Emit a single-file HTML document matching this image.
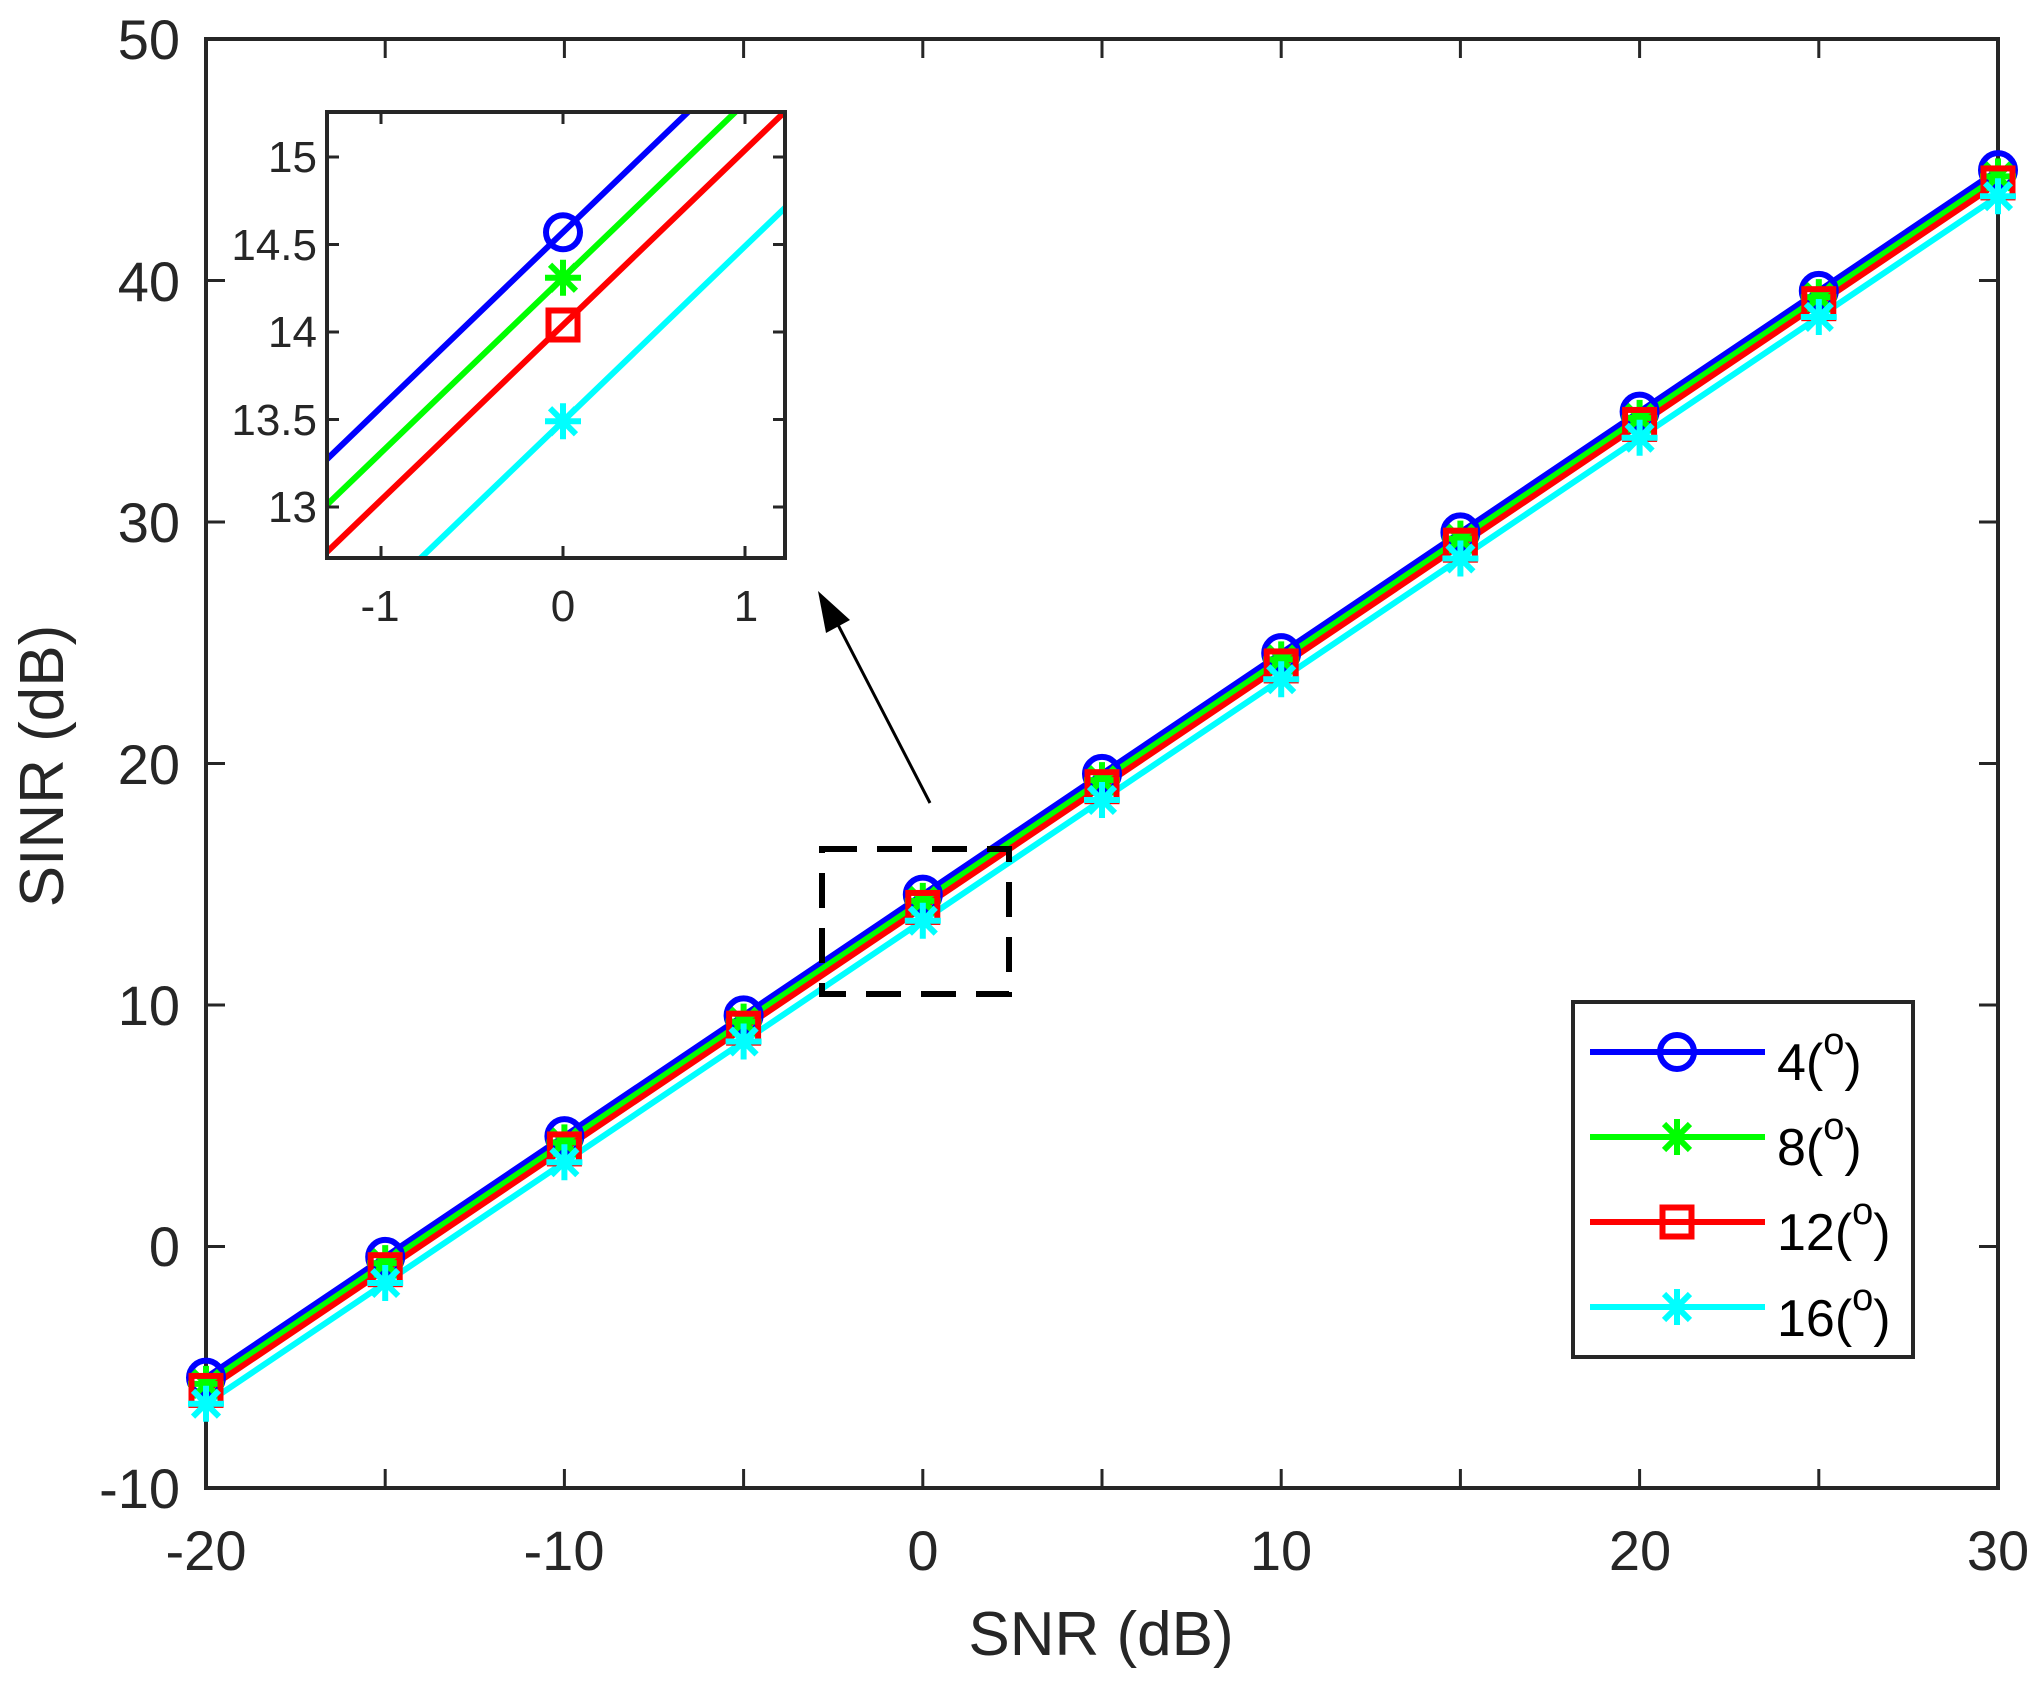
<!DOCTYPE html>
<html><head><meta charset="utf-8"><style>
html,body{margin:0;padding:0;background:#fff;overflow:hidden;width:2040px;height:1694px}
svg{display:block}
text{font-family:"Liberation Sans",Arial,sans-serif;fill:#262626}
</style></head><body>
<svg id="s" width="2040" height="1694" viewBox="0 0 2040 1694" xmlns="http://www.w3.org/2000/svg">
<defs>
<clipPath id="cm"><rect x="206" y="39" width="1792" height="1449"/></clipPath>
<clipPath id="ci"><rect x="327" y="112" width="458" height="446"/></clipPath>
</defs>
<rect x="0" y="0" width="2040" height="1694" fill="#fff"/>
<g id="mainplot" clip-path="url(#cm)"></g>
<rect x="206" y="39" width="1792" height="1449" fill="none" stroke="#262626" stroke-width="4"/>
<g id="mainmarks"></g>
<g id="mainticks" stroke="#262626" stroke-width="3"></g>
<g font-size="56" text-anchor="end">
<text x="180" y="1508">-10</text>
<text x="180" y="1266">0</text>
<text x="180" y="1025">10</text>
<text x="180" y="784">20</text>
<text x="180" y="542">30</text>
<text x="180" y="301">40</text>
<text x="180" y="59">50</text>
</g>
<g font-size="56" text-anchor="middle">
<text x="206" y="1570">-20</text>
<text x="564" y="1570">-10</text>
<text x="923" y="1570">0</text>
<text x="1281" y="1570">10</text>
<text x="1640" y="1570">20</text>
<text x="1998" y="1570">30</text>
</g>
<text x="1101" y="1655" font-size="62" text-anchor="middle">SNR (dB)</text>
<text transform="translate(63,766) rotate(-90)" font-size="62" text-anchor="middle">SINR (dB)</text>
<g id="dashbox"></g>
<line x1="930" y1="803" x2="834" y2="617" stroke="#000" stroke-width="3"/>
<polygon points="818,591 850,620 826,633" fill="#000"/>
<rect x="327" y="112" width="458" height="446" fill="#fff"/>
<g id="insetplot" clip-path="url(#ci)"></g>
<rect x="327" y="112" width="458" height="446" fill="none" stroke="#262626" stroke-width="4"/>
<g id="insetticks" stroke="#262626" stroke-width="3"></g>
<g font-size="44" text-anchor="end">
<text x="317" y="172">15</text>
<text x="317" y="260">14.5</text>
<text x="317" y="347">14</text>
<text x="317" y="435">13.5</text>
<text x="317" y="522">13</text>
</g>
<g font-size="44" text-anchor="middle">
<text x="380" y="621">-1</text>
<text x="563" y="621">0</text>
<text x="746" y="621">1</text>
</g>
<rect x="1573" y="1002" width="340" height="355" fill="#fff" stroke="#262626" stroke-width="4"/>
<g id="legend"></g>
<g font-size="52">
<text x="1777" y="1080" style="fill:#000">4(<tspan dy="-26" font-size="38">o</tspan><tspan dy="26">)</tspan></text>
<text x="1777" y="1165" style="fill:#000">8(<tspan dy="-26" font-size="38">o</tspan><tspan dy="26">)</tspan></text>
<text x="1777" y="1250" style="fill:#000">12(<tspan dy="-26" font-size="38">o</tspan><tspan dy="26">)</tspan></text>
<text x="1777" y="1336" style="fill:#000">16(<tspan dy="-26" font-size="38">o</tspan><tspan dy="26">)</tspan></text>
</g>
</svg>
<script>
const NS="http://www.w3.org/2000/svg";
function el(p,t,a){const e=document.createElementNS(NS,t);for(const k in a)e.setAttribute(k,a[k]);p.appendChild(e);return e;}
const series=[{c:"#0000ff",o:14.57,m:"o"},{c:"#00ff00",o:14.31,m:"*"},{c:"#ff0000",o:14.04,m:"s"},{c:"#00ffff",o:13.49,m:"*"}];
function marker(g,m,x,y,c){
 if(m=="o")el(g,"circle",{cx:x,cy:y,r:17,fill:"none",stroke:c,"stroke-width":6});
 else if(m=="s")el(g,"rect",{x:x-14.5,y:y-14.5,width:29,height:29,fill:"none",stroke:c,"stroke-width":6});
 else{const r=18;let d=`M${x-r} ${y}H${x+r}M${x} ${y-r}V${y+r}`;const k=r*0.72;
  d+=`M${x-k} ${y-k}L${x+k} ${y+k}M${x-k} ${y+k}L${x+k} ${y-k}`;
  el(g,"path",{d:d,stroke:c,"stroke-width":6,fill:"none"});}
}
const X=v=>206+(v+20)*35.84, Y=v=>1488-(v+10)*24.15;
const mp=document.getElementById("mainplot"), mm=document.getElementById("mainmarks");
series.forEach(s=>{
 let pts=[];for(let v=-20;v<=30;v+=5)pts.push(X(v)+","+Y(v+s.o));
 el(mp,"polyline",{points:pts.join(" "),fill:"none",stroke:s.c,"stroke-width":6});
});
series.forEach(s=>{for(let v=-20;v<=30;v+=5)marker(mm,s.m,X(v),Y(v+s.o),s.c);});
el(document.getElementById("dashbox"),"rect",{x:822,y:849,width:187,height:145,fill:"none",stroke:"#000","stroke-width":6,"stroke-dasharray":"35,20"});
const mt=document.getElementById("mainticks");
for(let v=-20;v<=30;v+=5){el(mt,"line",{x1:X(v),y1:1488,x2:X(v),y2:1469});el(mt,"line",{x1:X(v),y1:39,x2:X(v),y2:58});}
for(let v=-10;v<=50;v+=10){el(mt,"line",{x1:206,y1:Y(v),x2:225,y2:Y(v)});el(mt,"line",{x1:1998,y1:Y(v),x2:1979,y2:Y(v)});}
const IX=v=>563+182*v, IY=v=>157+175*(15-v);
const ip=document.getElementById("insetplot");
series.forEach(s=>{el(ip,"line",{x1:IX(-2),y1:IY(-2+s.o),x2:IX(2),y2:IY(2+s.o),stroke:s.c,"stroke-width":6});});
series.forEach(s=>marker(ip,s.m,IX(0),IY(s.o),s.c));
const it=document.getElementById("insetticks");
[-1,0,1].forEach(v=>{el(it,"line",{x1:IX(v),y1:558,x2:IX(v),y2:546});el(it,"line",{x1:IX(v),y1:112,x2:IX(v),y2:124});});
[13,13.5,14,14.5,15].forEach(v=>{el(it,"line",{x1:327,y1:IY(v),x2:339,y2:IY(v)});el(it,"line",{x1:785,y1:IY(v),x2:773,y2:IY(v)});});
const lg=document.getElementById("legend");
[1052,1137,1222,1307].forEach((y,i)=>{const s=series[i];
 el(lg,"line",{x1:1590,y1:y,x2:1765,y2:y,stroke:s.c,"stroke-width":6});marker(lg,s.m,1677,y,s.c);});
</script>
</body></html>
